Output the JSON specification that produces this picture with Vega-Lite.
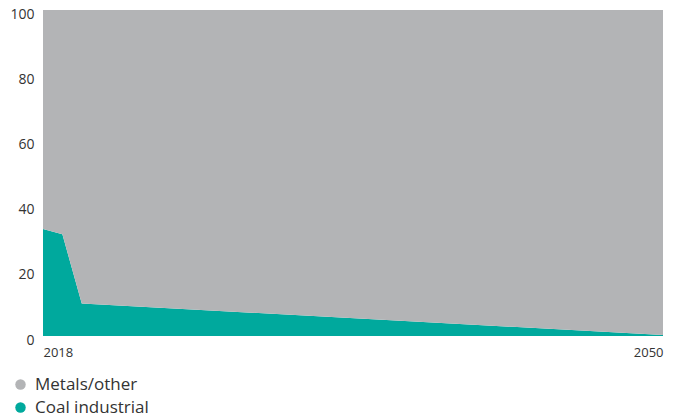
{
  "$schema": "https://vega.github.io/schema/vega-lite/v6.json",
  "width": 620,
  "height": 326,
  "autosize": {"type": "none"},
  "padding": {"left": 43, "top": 10, "right": 13, "bottom": 81},
  "background": "white",
  "config": {"view": {"stroke": null}, "font": "Open Sans"},
  "data": {
    "values": [
      {"year": 2018, "series": "Coal industrial", "value": 32.8},
      {"year": 2019, "series": "Coal industrial", "value": 31.2},
      {"year": 2020, "series": "Coal industrial", "value": 10.0},
      {"year": 2050, "series": "Coal industrial", "value": 0.3},
      {"year": 2018, "series": "Metals/other", "value": 67.2},
      {"year": 2019, "series": "Metals/other", "value": 68.8},
      {"year": 2020, "series": "Metals/other", "value": 90.0},
      {"year": 2050, "series": "Metals/other", "value": 99.7}
    ]
  },
  "mark": {"type": "area", "interpolate": "linear"},
  "encoding": {
    "x": {
      "field": "year", "type": "quantitative",
      "scale": {"domain": [2018, 2050], "nice": false, "zero": false},
      "axis": {"values": [2018, 2050], "format": "d", "title": null, "domain": false, "ticks": false, "grid": false, "labelFlush": true, "labelPadding": 10, "labelFontSize": 13, "labelColor": "#333333", "labelFont": "Open Sans"}
    },
    "y": {
      "field": "value", "type": "quantitative", "stack": "zero",
      "scale": {"domain": [0, 100], "nice": false},
      "axis": {"values": [0, 20, 40, 60, 80, 100], "title": null, "domain": false, "ticks": false, "grid": false, "labelPadding": 9, "labelOffset": 4, "labelFontSize": 14, "labelColor": "#333333", "labelFont": "Open Sans"}
    },
    "color": {
      "field": "series", "type": "nominal",
      "scale": {"domain": ["Metals/other", "Coal industrial"], "range": ["#b3b4b6", "#00a99d"]},
      "legend": {"orient": "none", "legendX": -31, "legendY": 366, "title": null, "symbolType": "circle", "symbolSize": 110, "symbolStrokeWidth": 0, "labelFontSize": 17, "labelColor": "#333333", "labelFont": "Open Sans", "labelOffset": 6, "rowPadding": 5, "symbolOpacity": 1}
    },
    "order": {"field": "series", "sort": "ascending"}
  }
}
